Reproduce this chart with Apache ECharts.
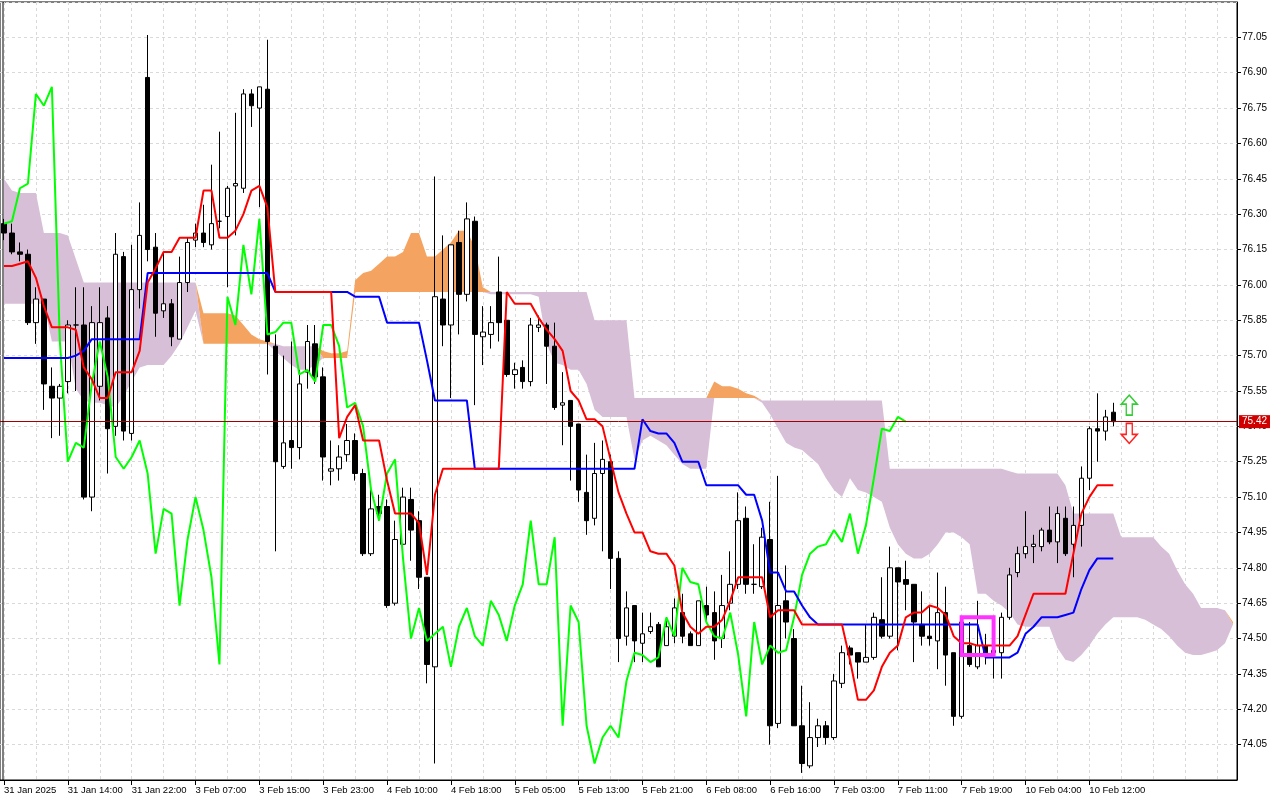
<!DOCTYPE html>
<html>
<head>
<meta charset="utf-8">
<title>H1 Ichimoku</title>
<script src="https://cdn.jsdelivr.net/npm/echarts/dist/echarts.min.js"></script>
<style>
  html, body { margin: 0; padding: 0; background: #fff; }
  #chart { width: 1280px; height: 800px; }
</style>
</head>
<body>
<div id="chart"></div>
<script>
// trading sessions shown on the chart: day, first hour, last hour (one bar per hour)
var sessions = [
  ['31 Jan', 6, 23], ['3 Feb', 1, 23], ['4 Feb', 3, 23], ['5 Feb', 3, 23],
  ['6 Feb', 3, 23], ['7 Feb', 3, 23], ['10 Feb', 1, 23], ['11 Feb', 1, 7]
];

var openP = [
  76.26, 76.22, 76.14, 76.13, 75.84, 75.94, 75.57, 75.52, 75.59, 75.83,
  75.83, 75.10, 75.57, 75.86, 75.40, 76.12, 75.37, 75.98, 76.88, 76.16,
  75.89, 75.92, 75.77, 76.01, 76.19, 76.22, 76.17, 76.27, 76.29, 76.42,
  76.41, 76.81, 76.75, 76.83, 75.74, 75.23, 75.34, 75.31, 75.63, 75.75,
  75.61, 75.21, 75.22, 75.28, 75.34, 75.20, 74.86, 75.06, 75.06, 74.65,
  74.90, 75.09, 75.00, 74.76, 74.38, 75.94, 75.83, 76.18, 75.96, 76.27,
  75.78, 75.79, 75.97, 75.85, 75.62, 75.65, 75.59, 75.82, 75.83, 75.74,
  75.49, 75.51, 75.41, 75.12, 75.01, 75.20, 75.25, 74.84, 74.51, 74.64,
  74.48, 74.53, 74.56, 74.47, 74.51, 74.61, 74.52, 74.47, 74.64, 74.61,
  74.50, 74.65, 74.73, 75.01, 74.73, 74.72, 74.92, 74.14, 74.66, 74.50,
  74.13, 73.96, 74.08, 74.13, 74.08, 74.31, 74.46, 74.44, 74.40, 74.42,
  74.58, 74.51, 74.80, 74.75, 74.73, 74.56, 74.51, 74.49, 74.61, 74.44,
  74.17, 74.47, 74.38, 74.47, 74.44, 74.44, 74.59, 74.78, 74.86, 74.89,
  74.89, 74.96, 74.91, 75.01, 74.90, 74.98, 75.18, 75.39, 75.38, 75.46
];
var highP = [
  76.28, 76.26, 76.18, 76.15, 75.99, 75.94, 75.65, 75.58, 75.85, 75.99,
  75.99, 75.91, 75.99, 75.91, 76.22, 76.14, 76.17, 76.35, 77.06, 76.22,
  76.14, 75.94, 76.12, 76.20, 76.26, 76.34, 76.51, 76.65, 76.42, 76.73,
  76.83, 76.83, 76.84, 77.04, 75.79, 75.70, 75.76, 75.64, 75.83, 75.83,
  75.65, 75.34, 75.32, 75.41, 75.37, 75.22, 75.16, 75.11, 75.09, 75.00,
  75.14, 75.14, 75.04, 74.76, 76.46, 76.21, 76.17, 76.23, 76.35, 76.29,
  75.91, 75.91, 76.12, 75.85, 75.67, 75.68, 75.86, 75.87, 75.84, 75.84,
  75.63, 75.51, 75.41, 75.28, 75.33, 75.34, 75.28, 74.87, 74.70, 74.64,
  74.61, 74.61, 74.57, 74.59, 74.67, 74.69, 74.53, 74.66, 74.72, 74.70,
  74.77, 74.87, 75.12, 75.06, 74.90, 74.97, 75.08, 75.19, 74.81, 74.54,
  74.30, 74.23, 74.16, 74.15, 74.35, 74.47, 74.47, 74.44, 74.56, 74.61,
  74.76, 74.89, 74.80, 74.83, 74.73, 74.70, 74.64, 74.78, 74.72, 74.44,
  74.57, 74.57, 74.66, 74.52, 74.50, 74.61, 74.80, 74.89, 75.04, 74.94,
  74.97, 75.06, 75.06, 75.06, 75.06, 75.23, 75.40, 75.54, 75.47, 75.50
];
var lowP = [
  76.19, 76.13, 76.10, 75.83, 75.75, 75.47, 75.35, 75.36, 75.54, 75.55,
  75.09, 75.04, 75.51, 75.20, 75.36, 75.34, 75.34, 75.90, 76.10, 75.78,
  75.86, 75.74, 75.77, 75.97, 76.16, 76.16, 76.15, 76.24, 75.99, 76.21,
  76.39, 76.67, 76.33, 75.62, 74.87, 75.22, 75.22, 75.26, 75.56, 75.58,
  75.17, 75.15, 75.17, 75.25, 75.17, 74.85, 74.85, 75.00, 74.63, 74.64,
  74.89, 74.83, 74.71, 74.31, 73.97, 75.74, 75.52, 75.79, 75.93, 75.49,
  75.66, 75.73, 75.76, 75.61, 75.56, 75.56, 75.57, 75.80, 75.58, 75.47,
  75.32, 75.17, 75.08, 74.94, 74.98, 74.87, 74.71, 74.40, 74.47, 74.40,
  74.40, 74.52, 74.38, 74.47, 74.48, 74.48, 74.47, 74.47, 74.57, 74.41,
  74.46, 74.62, 74.71, 74.69, 74.69, 74.71, 74.05, 74.12, 74.50, 74.13,
  73.93, 73.95, 74.04, 74.05, 74.07, 74.29, 74.39, 74.33, 74.40, 74.41,
  74.50, 74.50, 74.45, 74.62, 74.40, 74.47, 74.47, 74.37, 74.30, 74.13,
  74.16, 74.38, 74.37, 74.39, 74.33, 74.33, 74.58, 74.76, 74.84, 74.82,
  74.87, 74.90, 74.82, 74.85, 74.76, 74.89, 75.13, 75.25, 75.34, 75.40
];
var closeP = [
  76.22, 76.14, 76.13, 75.84, 75.94, 75.58, 75.52, 75.57, 75.83, 75.83,
  75.10, 75.84, 75.84, 75.39, 76.13, 75.38, 75.98, 76.21, 76.15, 75.88,
  75.92, 75.78, 76.01, 76.18, 76.22, 76.18, 76.26, 76.27, 76.41, 76.43,
  76.81, 76.76, 76.84, 75.76, 75.25, 75.33, 75.31, 75.58, 75.76, 75.61,
  75.27, 75.22, 75.27, 75.34, 75.20, 74.86, 75.05, 75.03, 74.64, 74.92,
  75.10, 74.96, 74.76, 74.39, 75.95, 75.83, 76.17, 75.96, 76.28, 75.79,
  75.80, 75.84, 75.84, 75.62, 75.64, 75.59, 75.83, 75.83, 75.74, 75.48,
  75.50, 75.40, 75.13, 75.00, 75.20, 75.26, 74.84, 74.50, 74.63, 74.49,
  74.52, 74.55, 74.38, 74.55, 74.63, 74.51, 74.47, 74.66, 74.60, 74.49,
  74.64, 74.73, 75.00, 74.73, 74.73, 74.93, 74.13, 74.64, 74.57, 74.13,
  73.97, 74.08, 74.13, 74.08, 74.32, 74.44, 74.43, 74.40, 74.42, 74.59,
  74.51, 74.80, 74.74, 74.73, 74.57, 74.51, 74.50, 74.61, 74.43, 74.17,
  74.57, 74.39, 74.47, 74.44, 74.45, 74.59, 74.77, 74.86, 74.89, 74.90,
  74.96, 74.91, 75.03, 74.86, 74.98, 75.18, 75.39, 75.38, 75.44, 75.42
];

// Tenkan-sen (red) and Kijun-sen (blue), read bar by bar
var tenkan = [
  76.08, 76.08, 76.09, 76.10, 76.03, 75.91, 75.82, 75.82, 75.82, 75.81,
  75.65, 75.60, 75.52, 75.52, 75.63, 75.63, 75.63, 75.72, 76.01, 76.07,
  76.14, 76.14, 76.20, 76.20, 76.20, 76.40, 76.40, 76.20, 76.20, 76.23,
  76.30, 76.40, 76.42, 76.33, 75.97, 75.97, 75.97, 75.97, 75.97, 75.97,
  75.97, 75.97, 75.35, 75.44, 75.49, 75.34, 75.34, 75.34, 75.17, 75.03,
  75.03, 75.03, 74.99, 74.77, 75.11, 75.22, 75.22, 75.22, 75.22, 75.22,
  75.22, 75.22, 75.22, 75.97, 75.92, 75.92, 75.92, 75.86, 75.81, 75.77,
  75.72, 75.55, 75.51, 75.43, 75.43, 75.40, 75.26, 75.12, 75.03, 74.95,
  74.95, 74.87, 74.86, 74.86, 74.81, 74.61, 74.55, 74.52, 74.55, 74.55,
  74.58, 74.66, 74.76, 74.76, 74.76, 74.76, 74.59, 74.62, 74.62, 74.62,
  74.56, 74.56, 74.56, 74.56, 74.56, 74.56, 74.41, 74.24, 74.24, 74.28,
  74.38, 74.44, 74.47, 74.59, 74.61, 74.61, 74.64, 74.63, 74.60, 74.51,
  74.48, 74.48, 74.47, 74.47, 74.47, 74.47, 74.47, 74.51, 74.60, 74.69,
  74.69, 74.69, 74.69, 74.69, 74.86, 75.03, 75.10, 75.15, 75.15, 75.15
];
var kijun = [
  75.69, 75.69, 75.69, 75.69, 75.69, 75.69, 75.69, 75.69, 75.69, 75.70,
  75.72, 75.77, 75.77, 75.77, 75.77, 75.77, 75.77, 75.77, 76.05, 76.05,
  76.05, 76.05, 76.05, 76.05, 76.05, 76.05, 76.05, 76.05, 76.05, 76.05,
  76.05, 76.05, 76.05, 76.05, 75.97, 75.97, 75.97, 75.97, 75.97, 75.97,
  75.97, 75.97, 75.97, 75.97, 75.95, 75.95, 75.95, 75.95, 75.84, 75.84,
  75.84, 75.84, 75.84, 75.68, 75.51, 75.51, 75.51, 75.51, 75.51, 75.22,
  75.22, 75.22, 75.22, 75.22, 75.22, 75.22, 75.22, 75.22, 75.22, 75.22,
  75.22, 75.22, 75.22, 75.22, 75.22, 75.22, 75.22, 75.22, 75.22, 75.22,
  75.43, 75.38, 75.37, 75.37, 75.33, 75.25, 75.25, 75.25, 75.15, 75.15,
  75.15, 75.15, 75.15, 75.11, 75.11, 75.00, 74.78, 74.78, 74.70, 74.70,
  74.64, 74.59, 74.56, 74.56, 74.56, 74.56, 74.56, 74.56, 74.56, 74.56,
  74.56, 74.56, 74.56, 74.56, 74.56, 74.56, 74.56, 74.56, 74.56, 74.56,
  74.56, 74.56, 74.56, 74.42, 74.42, 74.42, 74.42, 74.44, 74.52, 74.55,
  74.59, 74.59, 74.59, 74.60, 74.61, 74.71, 74.79, 74.84, 74.84, 74.84
];

// Senkou Span A / B as drawn (already shifted 26 bars ahead), 155 bars
var spanA = [
  75.92, 75.92, 75.92, 75.92, 75.92, 75.92, 75.76, 75.76, 75.76, 75.56,
  75.51, 75.50, 75.50, 75.49, 75.48, 75.53, 75.59, 75.65, 75.66, 75.66,
  75.66, 75.70, 75.75, 75.82, 75.89, 75.88, 75.88, 75.88, 75.88, 75.87,
  75.83, 75.79, 75.77, 75.76, 75.72, 75.69, 75.66, 75.64, 75.64, 75.66,
  75.72, 75.71, 75.71, 75.72, 76.02, 76.05, 76.06, 76.09, 76.12, 76.12,
  76.14, 76.22, 76.22, 76.12, 76.12, 76.15, 76.18, 76.23, 76.23, 76.16,
  75.99, 75.96, 75.96, 75.96, 75.96, 75.96, 75.96, 75.95, 75.75, 75.67,
  75.66, 75.64, 75.64, 75.58, 75.47, 75.44, 75.44, 75.44, 75.44, 75.26,
  75.34, 75.36, 75.34, 75.32, 75.28, 75.24, 75.22, 75.22, 75.22, 75.59,
  75.57, 75.57, 75.56, 75.54, 75.53, 75.50, 75.45, 75.39, 75.33, 75.31,
  75.30, 75.27, 75.24, 75.18, 75.13, 75.10, 75.18, 75.13, 75.12, 75.10,
  75.08, 74.97, 74.90, 74.86, 74.84, 74.84, 74.86, 74.90, 74.95, 74.95,
  74.93, 74.90, 74.69, 74.69, 74.66, 74.64, 74.61, 74.56, 74.55, 74.55,
  74.55, 74.55, 74.46, 74.41, 74.40, 74.43, 74.47, 74.52, 74.56, 74.59,
  74.59, 74.59, 74.59, 74.58, 74.56, 74.54, 74.51, 74.47, 74.44, 74.43,
  74.43, 74.44, 74.45, 74.48, 74.57
];
var spanB = [
  76.45, 76.40, 76.39, 76.39, 76.39, 76.22, 76.22, 76.22, 76.21, 76.11,
  76.01, 76.01, 76.01, 76.01, 76.01, 76.01, 76.01, 76.01, 76.01, 76.01,
  76.01, 76.01, 76.01, 76.01, 76.01, 75.75, 75.75, 75.75, 75.75, 75.75,
  75.75, 75.75, 75.75, 75.75, 75.75, 75.74, 75.74, 75.74, 75.74, 75.74,
  75.69, 75.69, 75.69, 75.69, 75.97, 75.97, 75.97, 75.97, 75.97, 75.97,
  75.97, 75.97, 75.97, 75.97, 75.97, 75.97, 75.97, 75.97, 75.97, 75.97,
  75.97, 75.97, 75.97, 75.97, 75.97, 75.97, 75.97, 75.97, 75.97, 75.97,
  75.97, 75.97, 75.97, 75.97, 75.85, 75.85, 75.85, 75.85, 75.85, 75.52,
  75.52, 75.52, 75.52, 75.52, 75.52, 75.52, 75.52, 75.52, 75.52, 75.52,
  75.52, 75.52, 75.52, 75.52, 75.52, 75.51, 75.51, 75.51, 75.51, 75.51,
  75.51, 75.51, 75.51, 75.51, 75.51, 75.51, 75.51, 75.51, 75.51, 75.51,
  75.51, 75.22, 75.22, 75.22, 75.22, 75.22, 75.22, 75.22, 75.22, 75.22,
  75.22, 75.22, 75.22, 75.22, 75.22, 75.22, 75.21, 75.20, 75.20, 75.20,
  75.20, 75.20, 75.20, 75.15, 75.03, 75.03, 75.03, 75.03, 75.03, 75.03,
  74.93, 74.93, 74.93, 74.93, 74.93, 74.89, 74.86, 74.79, 74.73, 74.69,
  74.63, 74.63, 74.63, 74.62, 74.56
];

var chikouShift = 26;
// chart objects: arrows [bar, price, dir], rectangle [fromBar, toBar, top, bottom]
var signals = [[141, 75.49, 'up'], [141, 75.37, 'down']];
var boxZone = [120, 124, 74.59, 74.43];

var categories = [];
sessions.forEach(function (s) {
  for (var h = s[1]; h <= s[2]; h++) {
    categories.push(s[0] + ' ' + (h < 10 ? '0' + h : h) + ':00');
  }
});

var candles = openP.map(function (o, i) { return [o, closeP[i], lowP[i], highP[i]]; });
var chikou = categories.map(function (c, i) {
  return i + chikouShift < closeP.length ? closeP[i + chikouShift] : '-';
});
// cloud: invisible base + bearish (B above A) band + bullish (A above B) band
var kumoBase = spanA.map(function (a, i) { return Math.min(a, spanB[i]); });
var kumoBear = spanA.map(function (a, i) { return spanB[i] > a ? +(spanB[i] - a).toFixed(2) : 0; });
var kumoBull = spanA.map(function (a, i) { return a >= spanB[i] ? +(a - spanB[i]).toFixed(2) : 0; });
var lastClose = closeP[closeP.length - 1];

var upArrow = 'path://M8,0 L16,9 L11,9 L11,20 L5,20 L5,9 L0,9 Z';
var downArrow = 'path://M5,0 L11,0 L11,11 L16,11 L8,20 L0,11 L5,11 Z';

var chartDom = document.getElementById('chart');
var myChart = echarts.init(chartDom);

var gridLine = { color: '#d9d9d9', type: [3, 3], width: 1 };

var option = {
  animation: false,
  backgroundColor: '#fff',
  grid: {
    left: -2, right: 43, top: 2, bottom: 20,
    show: true, borderColor: '#000', borderWidth: 1, backgroundColor: '#fff'
  },
  xAxis: {
    type: 'category',
    data: categories,
    boundaryGap: true,
    axisLine: { lineStyle: { color: '#000' } },
    axisTick: {
      show: true, alignWithLabel: true, length: 5,
      interval: function (i) { return i % 8 === 0 && i < closeP.length; },
      lineStyle: { color: '#000' }
    },
    axisLabel: {
      interval: function (i) { return i % 8 === 0 && i < closeP.length; },
      align: 'left',
      color: '#000',
      fontSize: 9.5,
      fontFamily: 'Liberation Sans',
      margin: 5,
      formatter: function (v, i) { return i === 0 ? '31 Jan 2025' : v; }
    },
    splitLine: {
      show: true, alignWithLabel: true,
      interval: function (i) { return i % 4 === 0; },
      lineStyle: gridLine
    }
  },
  yAxis: {
    type: 'value',
    position: 'right',
    min: 73.90,
    max: 77.20,
    interval: 0.15,
    axisLine: { show: true, lineStyle: { color: '#000' } },
    axisTick: { show: true, length: 4, lineStyle: { color: '#000' } },
    axisLabel: {
      color: '#000', fontSize: 10, fontFamily: 'Liberation Sans', margin: 5,
      showMinLabel: false, showMaxLabel: false,
      formatter: function (v) { return v.toFixed(2); }
    },
    splitLine: { show: true, lineStyle: gridLine }
  },
  graphic: [
    { type: 'line', shape: { x1: 3, y1: 2, x2: 3, y2: 780 }, style: { stroke: '#000', lineWidth: 1 }, z: 100 }
  ],
  series: [
    {
      name: 'kumoBase', type: 'line', data: kumoBase, stack: 'kumo',
      symbol: 'none', silent: true, z: 1, lineStyle: { opacity: 0 }
    },
    {
      name: 'kumoBear', type: 'line', data: kumoBear, stack: 'kumo',
      symbol: 'none', silent: true, z: 1, lineStyle: { width: 0, opacity: 0 },
      areaStyle: { color: '#d8bfd8', opacity: 1 }
    },
    {
      name: 'kumoBull', type: 'line', data: kumoBull, stack: 'kumo',
      symbol: 'none', silent: true, z: 1, lineStyle: { width: 0, opacity: 0 },
      areaStyle: { color: '#f4a460', opacity: 1 }
    },
    {
      name: 'price', type: 'candlestick', data: candles, z: 2, barWidth: 5,
      itemStyle: {
        color: '#ffffff', color0: '#000000',
        borderColor: '#000000', borderColor0: '#000000', borderColorDoji: '#000000',
        borderWidth: 1
      },
      markLine: {
        silent: true, animation: false, symbol: ['none', 'none'],
        lineStyle: { color: '#a50000', width: 1, type: 'solid' },
        label: {
          position: 'end', distance: 2,
          formatter: lastClose.toFixed(2),
          color: '#fff', backgroundColor: '#d00000',
          padding: [2, 3, 1, 3], fontSize: 10, fontFamily: 'Liberation Sans'
        },
        data: [{ yAxis: lastClose }]
      },
      markPoint: {
        silent: true, animation: false,
        label: { show: false },
        data: signals.map(function (s) {
          var up = s[2] === 'up';
          return {
            coord: [categories[s[0]], s[1]],
            symbol: up ? upArrow : downArrow,
            symbolSize: [16, 20],
            itemStyle: { color: '#ffffff', borderColor: up ? '#33cc33' : '#ff2020', borderWidth: 1.5 }
          };
        })
      }
    },
    {
      name: 'Chikou', type: 'line', data: chikou, z: 3,
      symbol: 'none', lineStyle: { color: '#00ff00', width: 2 }
    },
    {
      name: 'Kijun', type: 'line', data: kijun, z: 3,
      symbol: 'none', lineStyle: { color: '#0000ff', width: 2 }
    },
    {
      name: 'Tenkan', type: 'line', data: tenkan, z: 3,
      symbol: 'none', lineStyle: { color: '#ff0000', width: 2 }
    },
    {
      // magenta rectangle object drawn on the chart
      name: 'box', type: 'custom', z: 5, silent: true,
      data: [boxZone],
      renderItem: function (params, api) {
        var p1 = api.coord([api.value(0), api.value(2)]);
        var p2 = api.coord([api.value(1), api.value(3)]);
        return {
          type: 'rect',
          shape: { x: p1[0], y: p1[1], width: p2[0] - p1[0], height: p2[1] - p1[1] },
          style: { fill: 'none', stroke: '#ff33ff', lineWidth: 4 }
        };
      }
    }
  ]
};

myChart.setOption(option);
window.addEventListener('resize', function () {
  myChart.resize();
});
</script>
</body>
</html>
